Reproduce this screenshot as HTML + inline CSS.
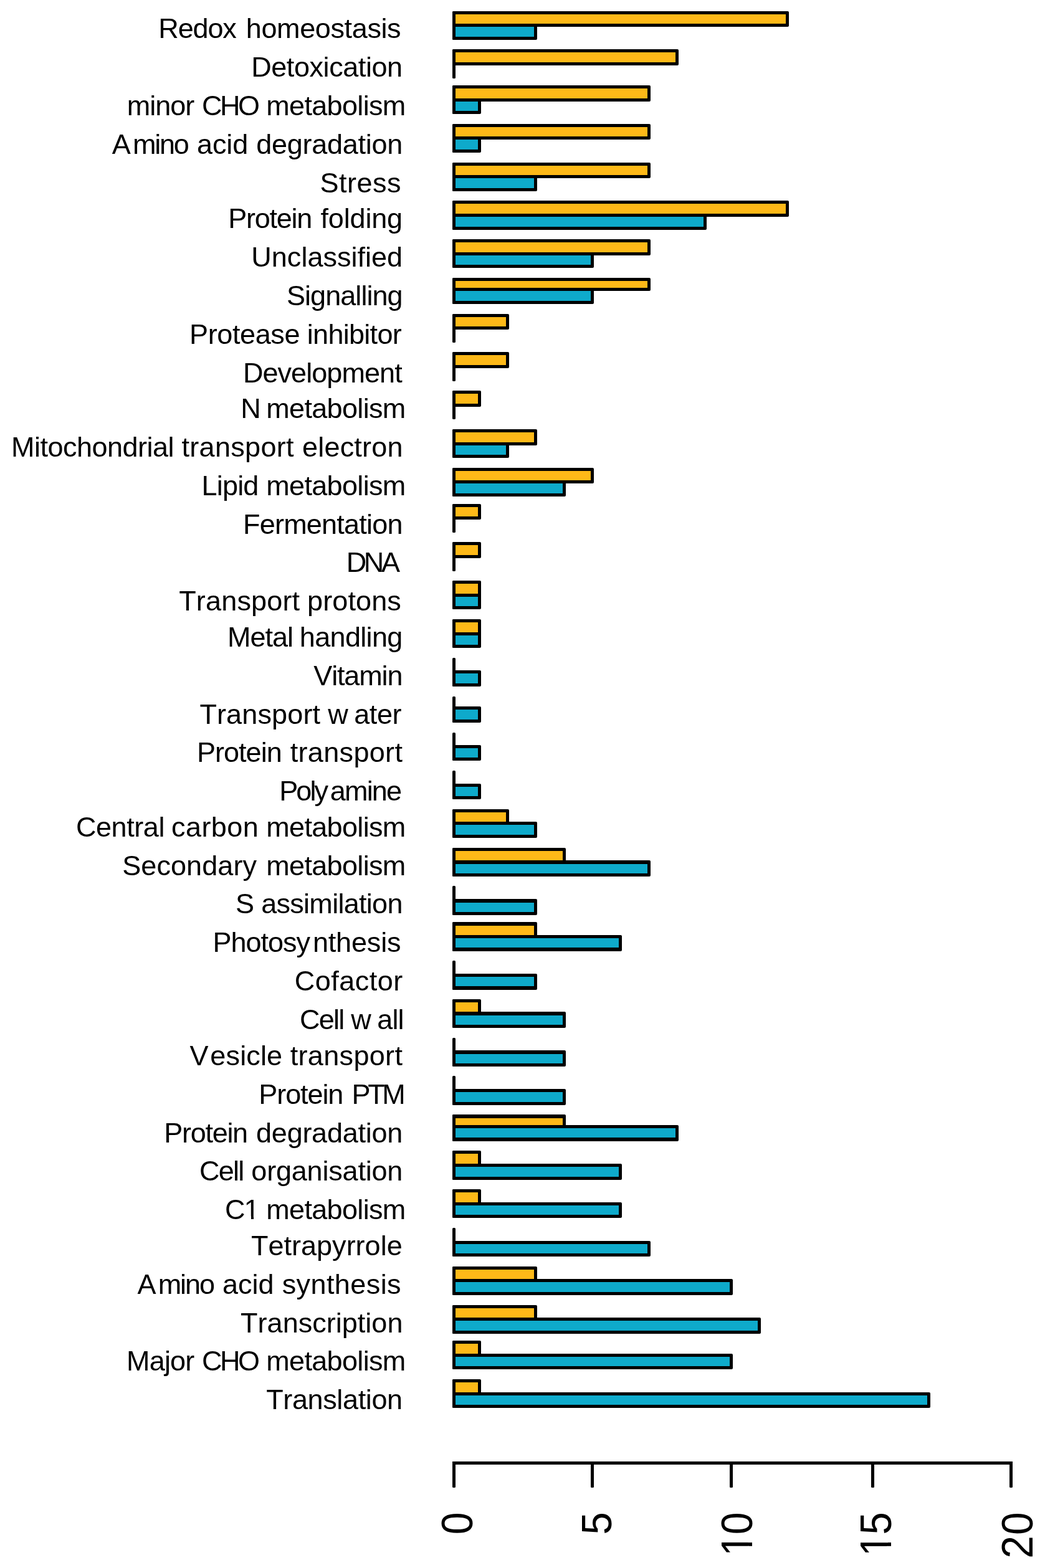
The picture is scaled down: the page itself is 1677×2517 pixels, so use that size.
<!DOCTYPE html>
<html lang="en"><head><meta charset="utf-8"><title>Functional categories bar chart</title>
<style>html,body{margin:0;padding:0;background:#fff}body{width:1677px;height:2517px;overflow:hidden}svg{display:block}text{font-family:"Liberation Sans",sans-serif;fill:#000}.l{font-size:45.0px;font-kerning:none}.a{font-size:68px;font-kerning:none}</style></head><body>
<svg width="1677" height="2517" viewBox="0 0 1677 2517" shape-rendering="crispEdges">
<rect width="1677" height="2517" fill="#fff"/>
<g shape-rendering="geometricPrecision" fill="#000">
<rect x="726" y="18" width="5" height="46" rx="1.5"/>
<rect x="726" y="18" width="540" height="25" rx="2"/>
<rect x="726" y="38" width="136" height="26" rx="2"/>
<rect x="726" y="79" width="5" height="47" rx="1.5"/>
<rect x="726" y="79" width="363" height="26" rx="2"/>
<rect x="726" y="137" width="5" height="46" rx="1.5"/>
<rect x="726" y="137" width="318" height="26" rx="2"/>
<rect x="726" y="158" width="46" height="25" rx="2"/>
<rect x="726" y="199" width="5" height="46" rx="1.5"/>
<rect x="726" y="199" width="318" height="25" rx="2"/>
<rect x="726" y="219" width="46" height="26" rx="2"/>
<rect x="726" y="261" width="5" height="46" rx="1.5"/>
<rect x="726" y="261" width="318" height="25" rx="2"/>
<rect x="726" y="281" width="136" height="26" rx="2"/>
<rect x="726" y="322" width="5" height="47" rx="1.5"/>
<rect x="726" y="322" width="540" height="26" rx="2"/>
<rect x="726" y="343" width="408" height="26" rx="2"/>
<rect x="726" y="384" width="5" height="46" rx="1.5"/>
<rect x="726" y="384" width="318" height="26" rx="2"/>
<rect x="726" y="405" width="227" height="25" rx="2"/>
<rect x="726" y="446" width="5" height="42" rx="1.5"/>
<rect x="726" y="446" width="318" height="21" rx="2"/>
<rect x="726" y="462" width="227" height="26" rx="2"/>
<rect x="726" y="504" width="5" height="46" rx="1.5"/>
<rect x="726" y="504" width="91" height="25" rx="2"/>
<rect x="726" y="565" width="5" height="47" rx="1.5"/>
<rect x="726" y="565" width="91" height="26" rx="2"/>
<rect x="726" y="627" width="5" height="46" rx="1.5"/>
<rect x="726" y="627" width="46" height="26" rx="2"/>
<rect x="726" y="689" width="5" height="46" rx="1.5"/>
<rect x="726" y="689" width="136" height="26" rx="2"/>
<rect x="726" y="710" width="91" height="25" rx="2"/>
<rect x="726" y="751" width="5" height="46" rx="1.5"/>
<rect x="726" y="751" width="227" height="25" rx="2"/>
<rect x="726" y="771" width="182" height="26" rx="2"/>
<rect x="726" y="809" width="5" height="46" rx="1.5"/>
<rect x="726" y="809" width="46" height="25" rx="2"/>
<rect x="726" y="870" width="5" height="47" rx="1.5"/>
<rect x="726" y="870" width="46" height="26" rx="2"/>
<rect x="726" y="932" width="5" height="46" rx="1.5"/>
<rect x="726" y="932" width="46" height="26" rx="2"/>
<rect x="726" y="953" width="46" height="25" rx="2"/>
<rect x="726" y="994" width="5" height="46" rx="1.5"/>
<rect x="726" y="994" width="46" height="26" rx="2"/>
<rect x="726" y="1015" width="46" height="25" rx="2"/>
<rect x="726" y="1056" width="5" height="46" rx="1.5"/>
<rect x="726" y="1076" width="46" height="26" rx="2"/>
<rect x="726" y="1118" width="5" height="42" rx="1.5"/>
<rect x="726" y="1134" width="46" height="26" rx="2"/>
<rect x="726" y="1176" width="5" height="45" rx="1.5"/>
<rect x="726" y="1196" width="46" height="25" rx="2"/>
<rect x="726" y="1237" width="5" height="46" rx="1.5"/>
<rect x="726" y="1258" width="46" height="25" rx="2"/>
<rect x="726" y="1299" width="5" height="46" rx="1.5"/>
<rect x="726" y="1299" width="91" height="25" rx="2"/>
<rect x="726" y="1319" width="136" height="26" rx="2"/>
<rect x="726" y="1361" width="5" height="46" rx="1.5"/>
<rect x="726" y="1361" width="182" height="26" rx="2"/>
<rect x="726" y="1381" width="318" height="26" rx="2"/>
<rect x="726" y="1422" width="5" height="47" rx="1.5"/>
<rect x="726" y="1443" width="136" height="26" rx="2"/>
<rect x="726" y="1480" width="5" height="47" rx="1.5"/>
<rect x="726" y="1480" width="136" height="26" rx="2"/>
<rect x="726" y="1501" width="272" height="26" rx="2"/>
<rect x="726" y="1542" width="5" height="47" rx="1.5"/>
<rect x="726" y="1563" width="136" height="26" rx="2"/>
<rect x="726" y="1604" width="5" height="46" rx="1.5"/>
<rect x="726" y="1604" width="46" height="26" rx="2"/>
<rect x="726" y="1624" width="182" height="26" rx="2"/>
<rect x="726" y="1666" width="5" height="46" rx="1.5"/>
<rect x="726" y="1686" width="182" height="26" rx="2"/>
<rect x="726" y="1727" width="5" height="47" rx="1.5"/>
<rect x="726" y="1748" width="182" height="26" rx="2"/>
<rect x="726" y="1789" width="5" height="43" rx="1.5"/>
<rect x="726" y="1789" width="182" height="22" rx="2"/>
<rect x="726" y="1806" width="363" height="26" rx="2"/>
<rect x="726" y="1847" width="5" height="47" rx="1.5"/>
<rect x="726" y="1847" width="46" height="26" rx="2"/>
<rect x="726" y="1868" width="272" height="26" rx="2"/>
<rect x="726" y="1909" width="5" height="46" rx="1.5"/>
<rect x="726" y="1909" width="46" height="26" rx="2"/>
<rect x="726" y="1930" width="272" height="25" rx="2"/>
<rect x="726" y="1971" width="5" height="46" rx="1.5"/>
<rect x="726" y="1992" width="318" height="25" rx="2"/>
<rect x="726" y="2033" width="5" height="46" rx="1.5"/>
<rect x="726" y="2033" width="136" height="25" rx="2"/>
<rect x="726" y="2053" width="450" height="26" rx="2"/>
<rect x="726" y="2095" width="5" height="46" rx="1.5"/>
<rect x="726" y="2095" width="136" height="25" rx="2"/>
<rect x="726" y="2115" width="495" height="26" rx="2"/>
<rect x="726" y="2152" width="5" height="46" rx="1.5"/>
<rect x="726" y="2152" width="46" height="26" rx="2"/>
<rect x="726" y="2173" width="450" height="25" rx="2"/>
<rect x="726" y="2214" width="5" height="46" rx="1.5"/>
<rect x="726" y="2214" width="46" height="26" rx="2"/>
<rect x="726" y="2235" width="767" height="25" rx="2"/>
</g>
<g>
<rect x="731" y="23" width="530" height="15" fill="#FEB918"/>
<rect x="731" y="43" width="126" height="16" fill="#0EAACB"/>
<rect x="731" y="84" width="353" height="16" fill="#FEB918"/>
<rect x="731" y="142" width="308" height="16" fill="#FEB918"/>
<rect x="731" y="163" width="36" height="15" fill="#0EAACB"/>
<rect x="731" y="204" width="308" height="15" fill="#FEB918"/>
<rect x="731" y="224" width="36" height="16" fill="#0EAACB"/>
<rect x="731" y="266" width="308" height="15" fill="#FEB918"/>
<rect x="731" y="286" width="126" height="16" fill="#0EAACB"/>
<rect x="731" y="327" width="530" height="16" fill="#FEB918"/>
<rect x="731" y="348" width="398" height="16" fill="#0EAACB"/>
<rect x="731" y="389" width="308" height="16" fill="#FEB918"/>
<rect x="731" y="410" width="217" height="15" fill="#0EAACB"/>
<rect x="731" y="451" width="308" height="11" fill="#FEB918"/>
<rect x="731" y="467" width="217" height="16" fill="#0EAACB"/>
<rect x="731" y="509" width="81" height="15" fill="#FEB918"/>
<rect x="731" y="570" width="81" height="16" fill="#FEB918"/>
<rect x="731" y="632" width="36" height="16" fill="#FEB918"/>
<rect x="731" y="694" width="126" height="16" fill="#FEB918"/>
<rect x="731" y="715" width="81" height="15" fill="#0EAACB"/>
<rect x="731" y="756" width="217" height="15" fill="#FEB918"/>
<rect x="731" y="776" width="172" height="16" fill="#0EAACB"/>
<rect x="731" y="814" width="36" height="15" fill="#FEB918"/>
<rect x="731" y="875" width="36" height="16" fill="#FEB918"/>
<rect x="731" y="937" width="36" height="16" fill="#FEB918"/>
<rect x="731" y="958" width="36" height="15" fill="#0EAACB"/>
<rect x="731" y="999" width="36" height="16" fill="#FEB918"/>
<rect x="731" y="1020" width="36" height="15" fill="#0EAACB"/>
<rect x="731" y="1081" width="36" height="16" fill="#0EAACB"/>
<rect x="731" y="1139" width="36" height="16" fill="#0EAACB"/>
<rect x="731" y="1201" width="36" height="15" fill="#0EAACB"/>
<rect x="731" y="1263" width="36" height="15" fill="#0EAACB"/>
<rect x="731" y="1304" width="81" height="15" fill="#FEB918"/>
<rect x="731" y="1324" width="126" height="16" fill="#0EAACB"/>
<rect x="731" y="1366" width="172" height="15" fill="#FEB918"/>
<rect x="731" y="1387" width="308" height="15" fill="#0EAACB"/>
<rect x="731" y="1449" width="126" height="15" fill="#0EAACB"/>
<rect x="731" y="1486" width="126" height="15" fill="#FEB918"/>
<rect x="731" y="1506" width="262" height="15" fill="#0EAACB"/>
<rect x="731" y="1568" width="126" height="15" fill="#0EAACB"/>
<rect x="731" y="1609" width="36" height="15" fill="#FEB918"/>
<rect x="731" y="1630" width="172" height="15" fill="#0EAACB"/>
<rect x="731" y="1692" width="172" height="15" fill="#0EAACB"/>
<rect x="731" y="1753" width="172" height="16" fill="#0EAACB"/>
<rect x="731" y="1795" width="172" height="11" fill="#FEB918"/>
<rect x="731" y="1811" width="353" height="15" fill="#0EAACB"/>
<rect x="731" y="1852" width="36" height="16" fill="#FEB918"/>
<rect x="731" y="1873" width="262" height="16" fill="#0EAACB"/>
<rect x="731" y="1914" width="36" height="16" fill="#FEB918"/>
<rect x="731" y="1935" width="262" height="15" fill="#0EAACB"/>
<rect x="731" y="1997" width="308" height="15" fill="#0EAACB"/>
<rect x="731" y="2038" width="126" height="15" fill="#FEB918"/>
<rect x="731" y="2058" width="440" height="16" fill="#0EAACB"/>
<rect x="731" y="2100" width="126" height="15" fill="#FEB918"/>
<rect x="731" y="2120" width="485" height="16" fill="#0EAACB"/>
<rect x="731" y="2157" width="36" height="16" fill="#FEB918"/>
<rect x="731" y="2178" width="440" height="15" fill="#0EAACB"/>
<rect x="731" y="2219" width="36" height="16" fill="#FEB918"/>
<rect x="731" y="2240" width="757" height="15" fill="#0EAACB"/>
</g>
<g>
<rect x="726" y="2346" width="899" height="5" fill="#000"/>
<rect x="726" y="2346" width="5" height="40" fill="#000"/>
<rect x="726" y="2383" width="5" height="5" rx="1.5" shape-rendering="geometricPrecision"/>
<rect x="948" y="2346" width="5" height="40" fill="#000"/>
<rect x="948" y="2383" width="5" height="5" rx="1.5" shape-rendering="geometricPrecision"/>
<rect x="1171" y="2346" width="5" height="40" fill="#000"/>
<rect x="1171" y="2383" width="5" height="5" rx="1.5" shape-rendering="geometricPrecision"/>
<rect x="1398" y="2346" width="5" height="40" fill="#000"/>
<rect x="1398" y="2383" width="5" height="5" rx="1.5" shape-rendering="geometricPrecision"/>
<rect x="1620" y="2346" width="5" height="40" fill="#000"/>
<rect x="1620" y="2383" width="5" height="5" rx="1.5" shape-rendering="geometricPrecision"/>
</g>
<g shape-rendering="auto" class="a">
<text transform="translate(757.50 2430) rotate(-90) scale(0.9480 1.0220)" x="-35.16">0</text>
<text transform="translate(980.50 2430) rotate(-90) scale(0.9560 1.0200)" x="-34.96">5</text>
<text transform="translate(1207.40 2430) rotate(-90) scale(0.9480 1.0220)" x="-71.74 -35.16">10</text>
<text transform="translate(1430.00 2430) rotate(-90) scale(0.9560 1.0300)" x="-71.31 -34.96">15</text>
<text transform="translate(1657.30 2430) rotate(-90) scale(0.9700 1.0220)" x="-74.06 -35.16">20</text>
</g>
<g shape-rendering="auto" class="l">
<text y="61"><tspan x="254.3" style="letter-spacing:-1.15px">Redox</tspan> <tspan x="394.8" style="letter-spacing:-0.38px">homeostasis</tspan></text>
<text y="123"><tspan x="403.2" style="letter-spacing:-0.43px">Detoxication</tspan></text>
<text y="185"><tspan x="203.7" style="letter-spacing:-0.97px">minor</tspan> <tspan x="324.1" style="letter-spacing:-3.55px">CHO</tspan> <tspan x="427.3" style="letter-spacing:-0.68px">metabolism</tspan></text>
<text y="247"><tspan x="179.7">A</tspan><tspan x="212.9" style="letter-spacing:-2.23px">mino</tspan> <tspan x="316.0" style="letter-spacing:-0.08px">acid</tspan> <tspan x="411.2" style="letter-spacing:-0.27px">degradation</tspan></text>
<text y="309"><tspan x="513.5" style="letter-spacing:0.50px">Stress</tspan></text>
<text y="366"><tspan x="366.3" style="letter-spacing:-1.25px">Protein</tspan> <tspan x="514.5" style="letter-spacing:-0.16px">folding</tspan></text>
<text y="428"><tspan x="403.3" style="letter-spacing:0.02px">Unclassified</tspan></text>
<text y="490"><tspan x="460.0" style="letter-spacing:-0.95px">Signalling</tspan></text>
<text y="552"><tspan x="304.1" style="letter-spacing:-0.40px">Protease</tspan> <tspan x="492.8" style="letter-spacing:-0.71px">inhibitor</tspan></text>
<text y="614"><tspan x="389.9" style="letter-spacing:-0.94px">Development</tspan></text>
<text y="671"><tspan x="386.2">N</tspan> <tspan x="427.3" style="letter-spacing:-0.68px">metabolism</tspan></text>
<text y="733"><tspan x="18.1" style="letter-spacing:-0.51px">Mitochondrial</tspan> <tspan x="291.5" style="letter-spacing:0.31px">transport</tspan> <tspan x="485.0" style="letter-spacing:0.20px">electron</tspan></text>
<text y="795"><tspan x="323.6" style="letter-spacing:-0.83px">Lipid</tspan> <tspan x="427.3" style="letter-spacing:-0.68px">metabolism</tspan></text>
<text y="857"><tspan x="390.0" style="letter-spacing:-0.78px">Fermentation</tspan></text>
<text y="918"><tspan x="555.7" style="letter-spacing:-4.35px">DNA</tspan></text>
<text y="980"><tspan x="287.2" style="letter-spacing:0.17px">Transport</tspan> <tspan x="493.1" style="letter-spacing:0.10px">protons</tspan></text>
<text y="1038"><tspan x="365.0" style="letter-spacing:-1.00px">Metal</tspan> <tspan x="480.8" style="letter-spacing:-0.66px">handling</tspan></text>
<text y="1100"><tspan x="503.3" style="letter-spacing:-1.15px">Vitamin</tspan></text>
<text y="1162"><tspan x="320.4" style="letter-spacing:0.13px">Transport</tspan> <tspan x="526.3">w</tspan><tspan x="568.2" style="letter-spacing:-0.38px">ater</tspan></text>
<text y="1223"><tspan x="316.1" style="letter-spacing:-1.00px">Protein</tspan> <tspan x="465.7" style="letter-spacing:0.33px">transport</tspan></text>
<text y="1285"><tspan x="448.2" style="letter-spacing:-2.91px">Poly</tspan><tspan x="529.8" style="letter-spacing:-1.83px">amine</tspan></text>
<text y="1343"><tspan x="121.9" style="letter-spacing:-0.42px">Central</tspan> <tspan x="275.0" style="letter-spacing:0.45px">carbon</tspan> <tspan x="427.3" style="letter-spacing:-0.68px">metabolism</tspan></text>
<text y="1405"><tspan x="196.2" style="letter-spacing:0.08px">Secondary</tspan> <tspan x="427.3" style="letter-spacing:-0.68px">metabolism</tspan></text>
<text y="1466"><tspan x="378.0">S</tspan> <tspan x="419.2" style="letter-spacing:-0.71px">assimilation</tspan></text>
<text y="1528"><tspan x="341.4" style="letter-spacing:-1.00px">Photosy</tspan><tspan x="501.9" style="letter-spacing:-0.15px">nthesis</tspan></text>
<text y="1590"><tspan x="472.7" style="letter-spacing:0.51px">Cofactor</tspan></text>
<text y="1652"><tspan x="480.9" style="letter-spacing:-1.72px">Cell</tspan> <tspan x="563.3">w</tspan><tspan x="605.3" style="letter-spacing:-0.92px">all</tspan></text>
<text y="1710"><tspan x="304.6">V</tspan><tspan x="337.3" style="letter-spacing:0.16px">esicle</tspan> <tspan x="465.7" style="letter-spacing:0.33px">transport</tspan></text>
<text y="1772"><tspan x="415.3" style="letter-spacing:-1.08px">Protein</tspan> <tspan x="564.5" style="letter-spacing:-4.35px">PTM</tspan></text>
<text y="1834"><tspan x="263.2" style="letter-spacing:-1.27px">Protein</tspan> <tspan x="411.1" style="letter-spacing:-0.26px">degradation</tspan></text>
<text y="1895"><tspan x="320.0" style="letter-spacing:-1.76px">Cell</tspan> <tspan x="403.3" style="letter-spacing:-0.19px">organisation</tspan></text>
<text y="1957"><tspan x="361.1">C</tspan><tspan x="391.5">1</tspan> <tspan x="427.3" style="letter-spacing:-0.68px">metabolism</tspan></text>
<text y="2015"><tspan x="403.0" style="letter-spacing:0.01px">Tetrapyrrole</tspan></text>
<text y="2077"><tspan x="220.5">A</tspan><tspan x="253.7" style="letter-spacing:-2.07px">mino</tspan> <tspan x="356.9" style="letter-spacing:-0.01px">acid</tspan> <tspan x="452.7" style="letter-spacing:0.41px">synthesis</tspan></text>
<text y="2139"><tspan x="386.1" style="letter-spacing:0.02px">Transcription</tspan></text>
<text y="2200"><tspan x="203.0" style="letter-spacing:-0.80px">Major</tspan> <tspan x="324.1" style="letter-spacing:-3.60px">CHO</tspan> <tspan x="427.3" style="letter-spacing:-0.68px">metabolism</tspan></text>
<text y="2262"><tspan x="427.2" style="letter-spacing:-0.37px">Translation</tspan></text>
</g>
<g fill="#fff" shape-rendering="geometricPrecision">
<rect x="394" y="1952" width="9" height="6"/>
<rect x="407" y="1952" width="9" height="6"/>
<g transform="translate(1207.40 2430) rotate(-90) scale(0.9480 1.0220)"><rect x="-68.06" y="-6.88" width="13.42" height="8.28"/><rect x="-48.63" y="-6.88" width="12.89" height="8.28"/></g>
<g transform="translate(1430.00 2430) rotate(-90) scale(0.9560 1.0300)"><rect x="-67.63" y="-6.88" width="13.42" height="8.28"/><rect x="-48.20" y="-6.88" width="12.89" height="8.28"/></g>
</g>
</svg></body></html>
